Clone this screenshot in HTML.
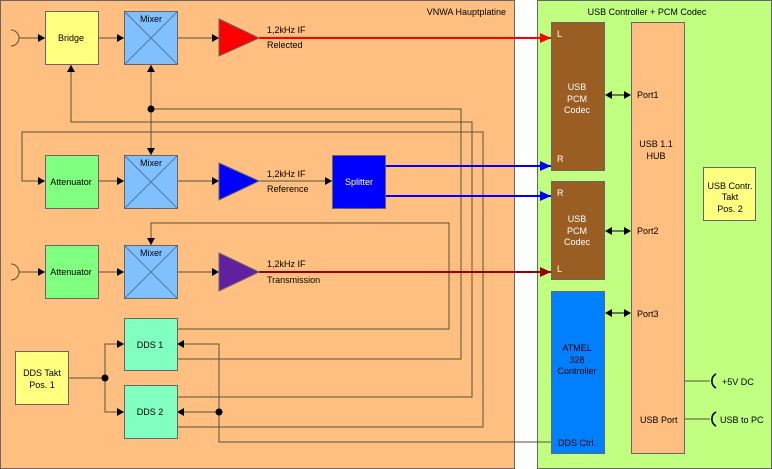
<!DOCTYPE html>
<html><head><meta charset="utf-8"><style>
html,body{margin:0;padding:0;background:#fff;}
svg{display:block;font-family:"Liberation Sans",Arial,sans-serif;}
</style></head><body>
<svg width="772" height="469" viewBox="0 0 772 469" xmlns="http://www.w3.org/2000/svg">
<defs>
<marker id="a" markerWidth="8" markerHeight="8" refX="7" refY="4" orient="auto" markerUnits="userSpaceOnUse"><path d="M0,0 L7,4 L0,8 z" fill="#000"/></marker>
<marker id="ar" markerWidth="12" markerHeight="10" refX="11" refY="5" orient="auto" markerUnits="userSpaceOnUse"><path d="M0,0 L11,5 L0,10 z" fill="#f00"/></marker>
<marker id="ab" markerWidth="12" markerHeight="10" refX="11" refY="5" orient="auto" markerUnits="userSpaceOnUse"><path d="M0,0 L11,5 L0,10 z" fill="#00f"/></marker>
<marker id="ad" markerWidth="12" markerHeight="10" refX="11" refY="5" orient="auto" markerUnits="userSpaceOnUse"><path d="M0,0 L11,5 L0,10 z" fill="#900"/></marker>
</defs>
<rect x="0.5" y="0.5" width="514" height="468" fill="#ffbf80" stroke="#666"/>
<rect x="537.5" y="0.5" width="234" height="468" fill="#c0ff80" stroke="#666"/>
<text x="506" y="15" font-size="9" text-anchor="end">VNWA Hauptplatine</text>
<text x="647" y="15" font-size="9" text-anchor="middle">USB Controller + PCM Codec</text>
<g stroke="#553" stroke-width="1" fill="none">
<path d="M11,30 A8,8 0 0 1 11,46"/><path d="M11,264 A8,8 0 0 1 11,280"/>
<line x1="19" y1="38" x2="45" y2="38" marker-end="url(#a)"/>
<line x1="98" y1="38" x2="124" y2="38" marker-end="url(#a)"/>
<line x1="177" y1="38" x2="219" y2="38" marker-end="url(#a)"/>
<line x1="98" y1="181" x2="124" y2="181" marker-end="url(#a)"/>
<line x1="177" y1="181" x2="219" y2="181" marker-end="url(#a)"/>
<line x1="259" y1="181" x2="332" y2="181" marker-end="url(#a)"/>
<line x1="19" y1="272" x2="45" y2="272" marker-end="url(#a)"/>
<line x1="98" y1="272" x2="124" y2="272" marker-end="url(#a)"/>
<line x1="177" y1="272" x2="219" y2="272" marker-end="url(#a)"/>
<line x1="151" y1="109" x2="151" y2="65" marker-end="url(#a)"/>
<line x1="151" y1="109" x2="151" y2="155" marker-end="url(#a)"/>
<path d="M151,109 H461 V359 H177"/>
<path d="M177,329 H449 V223 H151 V245" marker-end="url(#a)"/>
<path d="M177,397 H472 V122 H71 V65" marker-end="url(#a)"/>
<path d="M177,427 H483 V132 H22 V181 H45" marker-end="url(#a)"/>
<path d="M551,442 H219 V344 H177" marker-end="url(#a)"/>
<line x1="219" y1="412" x2="177" y2="412" marker-end="url(#a)"/>
<path d="M68,378 H105"/>
<path d="M105,378 V344 H124" marker-end="url(#a)"/>
<path d="M105,378 V412 H124" marker-end="url(#a)"/>
<path d="M684,381 H710"/><path d="M684,419 H710"/>
</g>
<g fill="#000"><circle cx="151" cy="109" r="3.5"/><circle cx="105" cy="378" r="3.5"/><circle cx="219" cy="412" r="3.5"/></g>
<g stroke="#000" stroke-width="1.6" fill="none"><path d="M716,374 A8,8 0 0 0 716,388"/><path d="M716,412 A8,8 0 0 0 716,426"/></g>
<line x1="259" y1="38" x2="551" y2="38" stroke="#f00" stroke-width="2" marker-end="url(#ar)"/>
<line x1="385" y1="166" x2="551" y2="166" stroke="#00f" stroke-width="2" marker-end="url(#ab)"/>
<line x1="385" y1="196" x2="551" y2="196" stroke="#00f" stroke-width="2" marker-end="url(#ab)"/>
<line x1="259" y1="272" x2="551" y2="272" stroke="#900" stroke-width="2" marker-end="url(#ad)"/>
<g stroke="#666" stroke-width="1">
<rect x="45.5" y="11.5" width="53" height="53" fill="#ffff80"/>
<rect x="45.5" y="155.5" width="53" height="53" fill="#80ff80"/>
<rect x="45.5" y="245.5" width="53" height="53" fill="#80ff80"/>
<rect x="124.5" y="11.5" width="53" height="53" fill="#80c0ff"/>
<rect x="124.5" y="155.5" width="53" height="53" fill="#80c0ff"/>
<rect x="124.5" y="245.5" width="53" height="53" fill="#80c0ff"/>
<rect x="332.5" y="155.5" width="53" height="53" fill="#0000ff"/>
<rect x="124.5" y="318.5" width="53" height="52" fill="#80ffc0"/>
<rect x="124.5" y="385.5" width="53" height="53" fill="#80ffc0"/>
<rect x="15.5" y="351.5" width="53" height="53" fill="#ffff80"/>
<rect x="551.5" y="22.5" width="53" height="148" fill="#9a5e22"/>
<rect x="551.5" y="181.5" width="53" height="98" fill="#9a5e22"/>
<rect x="551.5" y="291.5" width="53" height="162" fill="#0080ff"/>
<rect x="631.5" y="22.5" width="53" height="431" fill="#ffbf80"/>
<rect x="703.5" y="167.5" width="52" height="53" fill="#ffff80"/>
</g>
<g stroke="#4a6a8a" stroke-width="0.8">
<path d="M124.5,11.5 L177.5,64.5 M177.5,11.5 L124.5,64.5"/>
<path d="M124.5,155.5 L177.5,208.5 M177.5,155.5 L124.5,208.5"/>
<path d="M124.5,245.5 L177.5,298.5 M177.5,245.5 L124.5,298.5"/>
</g>
<polygon points="219,19 259,38 219,56" fill="#f00" stroke="#666"/>
<polygon points="219,163 259,181 219,200" fill="#00f" stroke="#666"/>
<polygon points="219,253 259,272 219,291" fill="#6020a0" stroke="#666"/>
<g stroke="#000" fill="none" stroke-width="1">
<line x1="612" y1="95" x2="626" y2="95"/><line x1="612" y1="231" x2="626" y2="231"/><line x1="612" y1="313" x2="626" y2="313"/>
</g>
<g fill="#000">
<path d="M605,95 l7,-4 v8z M631,95 l-7,-4 v8z M605,231 l7,-4 v8z M631,231 l-7,-4 v8z M605,313 l7,-4 v8z M631,313 l-7,-4 v8z"/>
</g>
<g font-size="9" text-anchor="middle">
<text x="71" y="41">Bridge</text>
<text x="151" y="22">Mixer</text><text x="151" y="166">Mixer</text><text x="151" y="256">Mixer</text>
<text x="71" y="185">Attenuator</text><text x="71" y="275">Attenuator</text>
<text x="359" y="185" fill="#fff">Splitter</text>
<text x="150" y="348">DDS 1</text><text x="150" y="415">DDS 2</text>
<text x="42" y="376">DDS Takt</text><text x="42" y="388">Pos. 1</text>
<text x="577" y="90" fill="#fff">USB</text><text x="577" y="102" fill="#fff">PCM</text><text x="577" y="113" fill="#fff">Codec</text>
<text x="577" y="222" fill="#fff">USB</text><text x="577" y="234" fill="#fff">PCM</text><text x="577" y="245" fill="#fff">Codec</text>
<text x="577" y="351">ATMEL</text><text x="577" y="363">328</text><text x="577" y="374">Controller</text>
<text x="577" y="446">DDS Ctrl.</text>
<text x="656" y="147">USB 1.1</text><text x="656" y="159">HUB</text>
<text x="730" y="189">USB Contr.</text><text x="730" y="200">Takt</text><text x="730" y="212">Pos. 2</text>
</g>
<g font-size="9">
<text x="267" y="33">1,2kHz IF</text><text x="267" y="48">Relected</text>
<text x="267" y="177">1,2kHz IF</text><text x="267" y="192">Reference</text>
<text x="267" y="267">1,2kHz IF</text><text x="267" y="283">Transmission</text>
<text x="557" y="37" fill="#fff">L</text><text x="557" y="162" fill="#fff">R</text>
<text x="557" y="196" fill="#fff">R</text><text x="557" y="272" fill="#fff">L</text>
<text x="637" y="98">Port1</text><text x="637" y="234">Port2</text><text x="637" y="317">Port3</text>
<text x="640" y="423">USB Port</text>
<text x="722" y="385">+5V DC</text><text x="720" y="423">USB to PC</text>
</g>
</svg>
</body></html>
